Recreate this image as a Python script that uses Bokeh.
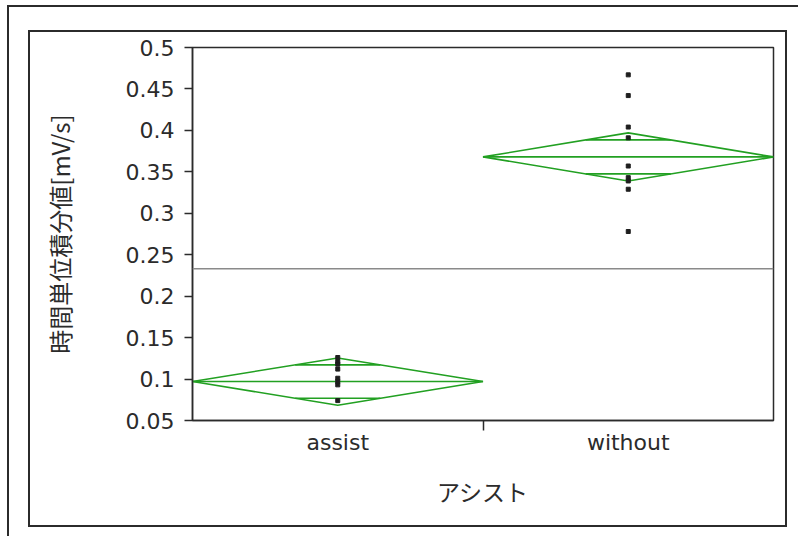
from bokeh.plotting import figure
from bokeh.models import (FixedTicker, CustomJSTickFormatter, Range1d, Span,
                          InlineStyleSheet)
from bokeh.embed import file_html
from bokeh.resources import INLINE

# Groups and measured values (mV/s)
groups = ["assist", "without"]
assist_vals = [0.126, 0.121, 0.118, 0.112, 0.101, 0.097, 0.093, 0.074]
without_vals = [0.467, 0.442, 0.404, 0.391, 0.357, 0.343, 0.339, 0.329, 0.278]
group_means = [0.097, 0.368]
group_ci = [0.0285, 0.029]          # half-width of the 95% confidence interval
grand_mean = 0.233
y_ticks = [0.05, 0.1, 0.15, 0.2, 0.25, 0.3, 0.35, 0.4, 0.45, 0.5]

LATIN = "DejaVu Sans"
CJK = "Noto Sans CJK JP"
INK = "#2b2b2b"
GREEN = "#22a022"

p = figure(width=798, height=536, output_backend="svg", toolbar_location=None,
           x_range=Range1d(0, len(groups)), y_range=Range1d(0.05, 0.5),
           min_border_left=192, min_border_right=25,
           min_border_top=47, min_border_bottom=116)
p.xgrid.visible = False
p.ygrid.visible = False
p.outline_line_color = INK
p.outline_line_width = 1.5
p.background_fill_color = "white"
p.border_fill_color = "white"

# grand mean reference line
p.add_layout(Span(location=grand_mean, dimension="width",
                  line_color="#8a8a8a", line_width=1.5))

# means diamonds with overlap marks
k = 2 ** -0.5
for i, (m, ci) in enumerate(zip(group_means, group_ci)):
    x0, xc, x1 = i, i + 0.5, i + 1
    p.patch([x0, xc, x1, xc], [m, m + ci, m, m - ci],
            fill_alpha=0, line_color=GREEN, line_width=1.6)
    p.line([x0, x1], [m, m], line_color=GREEN, line_width=1.6)
    half = 0.5 * (1 - k)
    for s in (1, -1):
        p.line([xc - half, xc + half], [m + s * k * ci] * 2,
               line_color=GREEN, line_width=1.6)

# individual observations
for i, vals in enumerate([assist_vals, without_vals]):
    p.scatter([i + 0.5] * len(vals), vals, marker="square", size=4,
              color="#1e1e1e")

# x axis: category names centred, a tick at the group boundary
xa = p.xaxis[0]
xa.ticker = FixedTicker(ticks=[i + 0.5 for i in range(len(groups))],
                        minor_ticks=[i for i in range(1, len(groups))])
xa.formatter = CustomJSTickFormatter(args=dict(names=groups),
                                     code="return names[Math.round(tick - 0.5)];")
xa.major_tick_out = 0
xa.major_tick_in = 0
xa.minor_tick_out = 10
xa.minor_tick_in = 0
xa.minor_tick_line_color = INK
xa.minor_tick_line_width = 1.5
xa.axis_line_color = INK
xa.axis_line_width = 1.5
xa.major_label_text_font = LATIN
xa.major_label_text_font_size = "22px"
xa.major_label_text_color = INK
xa.major_label_standoff = -1
xa.axis_label = "アシスト"
xa.axis_label_text_font = CJK
xa.axis_label_text_font_size = "23px"
xa.axis_label_text_font_style = "normal"
xa.axis_label_text_color = INK
xa.axis_label_standoff = 16

ya = p.yaxis[0]
ya.ticker = FixedTicker(ticks=y_ticks, minor_ticks=[])
ya.formatter = CustomJSTickFormatter(code="return tick.toFixed(2).replace(/0$/, '');")
ya.major_tick_out = 8
ya.major_tick_in = 0
ya.major_tick_line_color = INK
ya.major_tick_line_width = 1.5
ya.axis_line_color = INK
ya.axis_line_width = 1.5
ya.major_label_text_font = LATIN
ya.major_label_text_font_size = "22px"
ya.major_label_text_color = INK
ya.major_label_standoff = 10
ya.axis_label = "時間単位積分値[mV/s]"
ya.axis_label_text_font = CJK
ya.axis_label_text_font_size = "24px"
ya.axis_label_text_font_style = "normal"
ya.axis_label_text_color = INK
ya.axis_label_standoff = 46

# report frames drawn around the chart area
frames = InlineStyleSheet(css="""
:host { position: relative; }
:host::before {
  content: ""; position: absolute; left: 7px; top: 5px;
  width: 900px; height: 700px; box-sizing: border-box;
  border-top: 2px solid #2b2b2b; border-left: 2px solid #2b2b2b;
  pointer-events: none; z-index: 10;
}
:host::after {
  content: ""; position: absolute; left: 28px; top: 30px;
  width: 759px; height: 497px; box-sizing: border-box;
  border: 2px solid #2b2b2b;
  pointer-events: none; z-index: 10;
}
""")
p.stylesheets = [frames]

open("out.html", "w").write(file_html(p, INLINE))
